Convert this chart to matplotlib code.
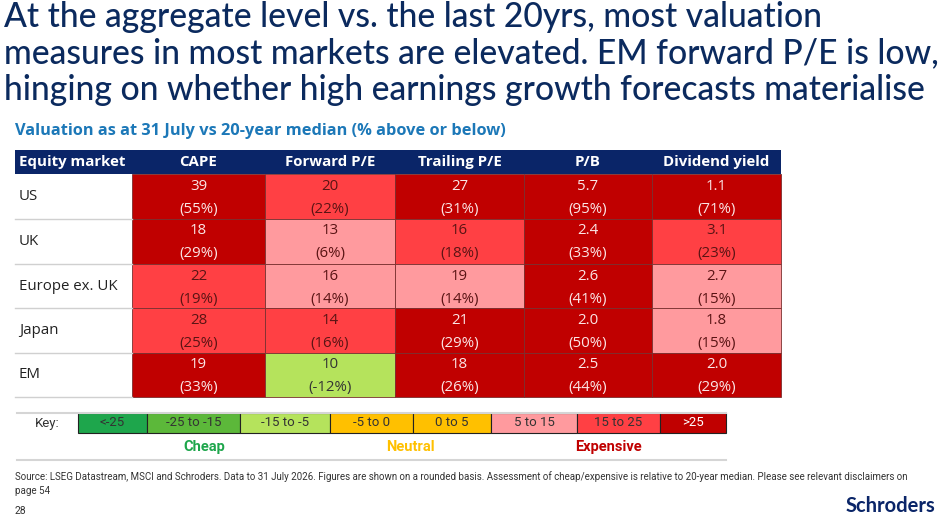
import numpy as np
import matplotlib
matplotlib.use("Agg")
import matplotlib.pyplot as plt
from matplotlib.patches import Rectangle

# ---- data ----
markets = ["US", "UK", "Europe ex. UK", "Japan", "EM"]
metrics = ["CAPE", "Forward P/E", "Trailing P/E", "P/B", "Dividend yield"]

cape_val = ["39", "18", "22", "28", "19"]
cape_pct = [55, 29, 19, 25, 33]
fwd_val = ["20", "13", "16", "14", "10"]
fwd_pct = [22, 6, 14, 16, -12]
trail_val = ["27", "16", "19", "21", "18"]
trail_pct = [31, 18, 14, 29, 26]
pb_val = ["5.7", "2.4", "2.6", "2.0", "2.5"]
pb_pct = [95, 33, 41, 50, 44]
dy_val = ["1.1", "3.1", "2.7", "1.8", "2.0"]
dy_pct = [71, 23, 15, 15, 29]

key_labels = ["<-25", "-25 to -15", "-15 to -5", "-5 to 0", "0 to 5", "5 to 15", "15 to 25", ">25"]
key_edges = [-25, -15, -5, 0, 5, 15, 25]
key_colors = ["#1ea64c", "#5cb83a", "#b5e35c", "#ffc000", "#ffc000", "#ff9a9e", "#ff4044", "#c00000"]
key_text = ["#333333"] * 7 + ["#ffffff"]

title_lines = ["At the aggregate level vs. the last 20yrs, most valuation",
               "measures in most markets are elevated. EM forward P/E is low,",
               "hinging on whether high earnings growth forecasts materialise"]
subtitle = "Valuation as at 31 July vs 20-year median (% above or below)"
source = ("Source: LSEG Datastream, MSCI and Schroders. Data to 31 July 2026. Figures are shown on a rounded basis. "
          "Assessment of cheap/expensive is relative to 20-year median. Please see relevant disclaimers on\npage 54")

vals = [cape_val, fwd_val, trail_val, pb_val, dy_val]
pcts = [cape_pct, fwd_pct, trail_pct, pb_pct, dy_pct]

NAVY = "#0b2a5e"
HEAD = "#0a2568"
narrow = ["Roboto", "DejaVu Sans"]

fig = plt.figure(figsize=(9.39, 5.22), dpi=100)
ax = fig.add_axes([0, 0, 1, 1])
ax.set_xlim(0, 939)
ax.set_ylim(522, 0)
ax.axis("off")

# title, one text per line to control spacing
for n, line in enumerate(title_lines):
    ax.text(4, 17 + 36.5 * n, line, fontsize=24.2, color=NAVY, family="Lato",
            weight="medium", va="center", ha="left")
ax.text(15, 131, subtitle, fontsize=11.8, color="#1c78b8", family="Open Sans",
        weight="bold", va="center", ha="left")

# table layout
col_x = [15, 132, 265, 395, 524, 652, 781]
row_y = [150, 174, 219, 264, 308, 353, 397]

ax.add_patch(Rectangle((col_x[0], row_y[0]), col_x[-1] - col_x[0], row_y[1] - row_y[0],
                       facecolor=HEAD, edgecolor="none"))
hy = (row_y[0] + row_y[1]) / 2
ax.text(col_x[0] + 4, hy, "Equity market", color="white", fontsize=10.8, weight="bold",
        family="Open Sans", va="center", ha="left")
for j, m in enumerate(metrics):
    ax.text((col_x[j + 1] + col_x[j + 2]) / 2, hy, m, color="white", fontsize=10.8,
            weight="bold", family="Open Sans", va="center", ha="center")

for i, mk in enumerate(markets):
    y0, y1 = row_y[i + 1], row_y[i + 2]
    ax.text(col_x[0] + 4, (y0 + y1) / 2, mk, fontsize=10.8, color="#222222",
            family="Open Sans", va="center", ha="left")
    ax.plot([col_x[0], col_x[1]], [y1, y1], color="#d0d0d0", lw=1)
    for j in range(len(metrics)):
        p = pcts[j][i]
        b = int(np.digitize(p, key_edges, right=True))
        fc = key_colors[b]
        tc = "#fbe6e6" if b == 7 else ("#333333" if b < 3 else "#5a1414")
        ax.add_patch(Rectangle((col_x[j + 1], y0), col_x[j + 2] - col_x[j + 1], y1 - y0,
                               facecolor=fc, edgecolor="#7a3030", lw=0.6))
        cx = (col_x[j + 1] + col_x[j + 2]) / 2
        ax.text(cx, y0 + 12, vals[j][i], fontsize=10.8, color=tc, family="Open Sans",
                va="center", ha="center")
        ax.text(cx, y0 + 35, f"({p}%)", fontsize=10.8, color=tc, family="Open Sans",
                va="center", ha="center")

# key
kx = [17, 78, 147, 240, 330, 413, 491, 577, 660, 726]
ky0, ky1 = 413, 433
ax.plot([kx[0], kx[-1]], [ky0, ky0], color="#d5d5d5", lw=1.5)
ax.plot([kx[0], kx[-1]], [460, 460], color="#d5d5d5", lw=1.5)
ax.text((kx[0] + kx[1]) / 2, (ky0 + ky1) / 2, "Key:", fontsize=9.5, color="#333333",
        family=narrow, va="center", ha="center")
for k, lab in enumerate(key_labels):
    ax.add_patch(Rectangle((kx[k + 1], ky0), kx[k + 2] - kx[k + 1], ky1 - ky0,
                           facecolor=key_colors[k], edgecolor="#222222", lw=0.8))
    ax.text((kx[k + 1] + kx[k + 2]) / 2, (ky0 + ky1) / 2, lab, fontsize=9.5,
            color=key_text[k], family=narrow, va="center", ha="center")

for lab, xc, c in [("Cheap", (kx[1] + kx[4]) / 2, "#1ea64c"),
                   ("Neutral", (kx[4] + kx[6]) / 2, "#ffc000"),
                   ("Expensive", (kx[6] + kx[9]) / 2, "#c00000")]:
    ax.text(xc, 447, lab, fontsize=10.5, weight="bold", color=c, family=narrow,
            va="center", ha="center")

# footer
ax.text(15, 471, source, fontsize=7.05, color="#333333", family=narrow, va="top",
        ha="left", linespacing=1.45)
ax.text(15, 511, "28", fontsize=7.5, color="#333333", family=narrow, va="center", ha="left")
ax.text(935, 506, "Schroders", fontsize=14.5, weight="bold", color=HEAD, family="Lato",
        va="center", ha="right")

fig.savefig("out.png", dpi=100)
